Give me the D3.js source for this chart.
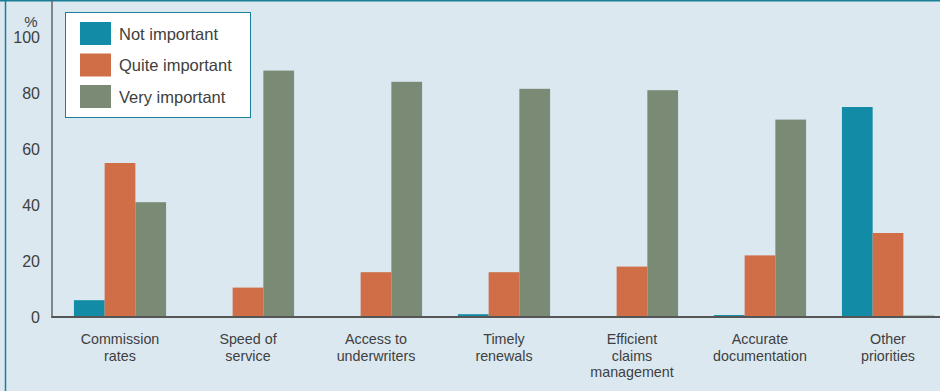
<!DOCTYPE html>
<html>
<head>
<meta charset="utf-8">
<script src="https://cdn.jsdelivr.net/npm/d3@7"></script>
<style>
  html, body { margin: 0; padding: 0; background: #dbe8f0; }
  svg { display: block; }
  text { font-family: "Liberation Sans", Arial, sans-serif; fill: #404040; }
</style>
</head>
<body>
<svg id="chart" width="940" height="391"></svg>
<script>
const categories = [
  ["Commission", "rates"],
  ["Speed of", "service"],
  ["Access to", "underwriters"],
  ["Timely", "renewals"],
  ["Efficient", "claims", "management"],
  ["Accurate", "documentation"],
  ["Other", "priorities"]
];
const seriesNames = ["Not important", "Quite important", "Very important"];
const notImportant   = [6, 0, 0, 1, 0, 0.7, 75];
const quiteImportant = [55, 10.5, 16, 16, 18, 22, 30];
const veryImportant  = [41, 88, 84, 81.5, 81, 70.5, 0.5];
const yTicks = [0, 20, 40, 60, 80, 100];
const colors = ["#128ba6", "#d06e48", "#7a8a75"];

const series = [notImportant, quiteImportant, veryImportant];
const svg = d3.select("#chart");
const W = 940, H = 391;

svg.append("rect").attr("x", 0).attr("y", 0).attr("width", W).attr("height", H).attr("fill", "#dbe8f0");
// frame lines
svg.append("line").attr("x1", 5.5).attr("x2", 5.5).attr("y1", 0).attr("y2", H).attr("stroke", "#1a7f98").attr("stroke-width", 1.5);
svg.append("line").attr("x1", 0).attr("x2", W).attr("y1", 0.75).attr("y2", 0.75).attr("stroke", "#1a7f98").attr("stroke-width", 1.5);

const keys = categories.map((c, i) => i);
const x0 = d3.scaleBand().domain(keys).range([56, 952]).paddingInner(0.28).paddingOuter(0.14);
const x1 = d3.scaleBand().domain([0, 1, 2]).range([0, x0.bandwidth()]);
const y = d3.scaleLinear().domain([0, 100]).range([317, 37]);

// bars
const groups = svg.append("g").selectAll("g").data(keys).join("g")
  .attr("transform", d => `translate(${x0(d)},0)`);
groups.selectAll("rect").data(i => series.map((s, k) => ({k, v: s[i]}))).join("rect")
  .attr("x", d => x1(d.k))
  .attr("width", x1.bandwidth())
  .attr("y", d => y(d.v))
  .attr("height", d => y(0) - y(d.v))
  .attr("fill", d => colors[d.k]);

// axes lines
svg.append("line").attr("x1", 52).attr("x2", 52).attr("y1", 0).attr("y2", y(0)).attr("stroke", "#666").attr("stroke-width", 1.5);
svg.append("line").attr("x1", 51.25).attr("x2", W).attr("y1", y(0)).attr("y2", y(0)).attr("stroke", "#555").attr("stroke-width", 2);

// y ticks
const yAxis = d3.axisLeft(y).tickValues(yTicks).tickSize(0).tickPadding(0);
const ya = svg.append("g").attr("transform", "translate(40,0)").call(yAxis);
ya.select(".domain").remove();
ya.selectAll("text").attr("font-size", 16).attr("fill", "#404040")
  .style("font-family", "'Liberation Sans', Arial, sans-serif");
svg.append("text").attr("x", 31).attr("y", 27).attr("text-anchor", "middle").attr("font-size", 15).text("%");

// x labels
const xl = svg.append("g").selectAll("text").data(keys).join("text")
  .attr("text-anchor", "middle")
  .attr("font-size", 14.3)
  .attr("x", d => x0(d) + x0.bandwidth() / 2)
  .attr("y", 344);
xl.selectAll("tspan").data(d => categories[d]).join("tspan")
  .attr("x", function() { return d3.select(this.parentNode).attr("x"); })
  .attr("dy", (d, i) => i === 0 ? 0 : 16.5)
  .text(d => d);

// legend
const lg = svg.append("g");
lg.append("rect").attr("x", 65.5).attr("y", 12.5).attr("width", 185).attr("height", 105)
  .attr("fill", "#ffffff").attr("stroke", "#1a7f98").attr("stroke-width", 1);
seriesNames.forEach((n, i) => {
  const yy = 22 + i * 31.5;
  lg.append("rect").attr("x", 80).attr("y", yy).attr("width", 31).attr("height", 23).attr("fill", colors[i]);
  lg.append("text").attr("x", 119).attr("y", yy + 17.5).attr("font-size", 16.5).text(n);
});
</script>
</body>
</html>
